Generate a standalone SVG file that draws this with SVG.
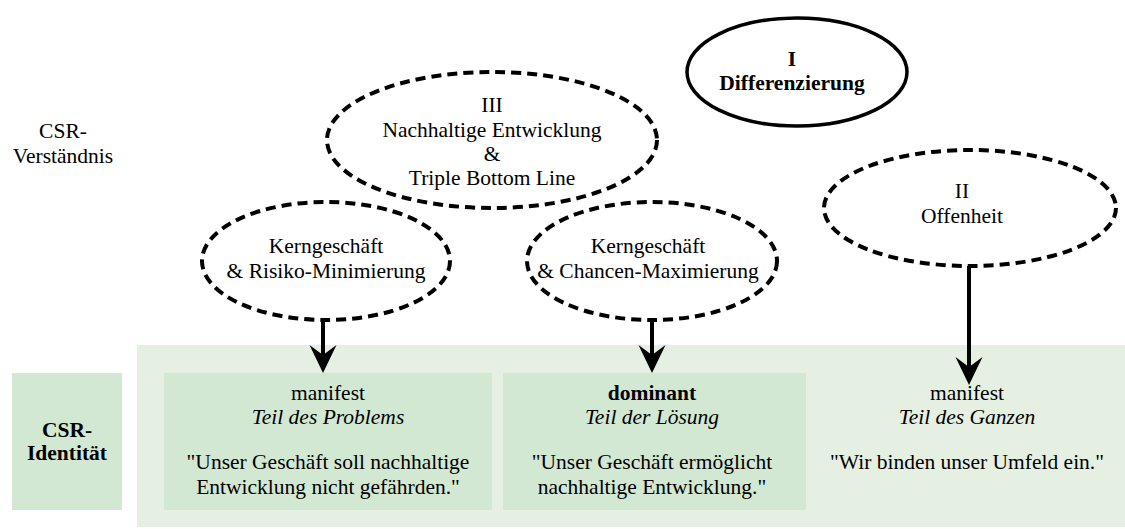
<svg xmlns="http://www.w3.org/2000/svg" width="1125" height="529" viewBox="0 0 1125 529" font-family="'Liberation Serif', 'Times New Roman', serif">
<style>
text{font-family:'Liberation Serif','Times New Roman',serif;font-size:21.5px;fill:#000;text-anchor:middle}
.b{font-weight:bold}
.i{font-style:italic}
.dash{fill:none;stroke:#000;stroke-width:4;stroke-dasharray:10 6}
.solid{fill:none;stroke:#000;stroke-width:3.5}
.panel{fill:#e5f0e3}
.box{fill:#d3e8d2}
.conn{stroke:#000;stroke-width:4;fill:none}
</style>
<defs>
<marker id="ah" viewBox="-28 -14 30 28" markerWidth="30" markerHeight="28" refX="-18" refY="0" markerUnits="userSpaceOnUse" orient="auto">
<path d="M0,0 L-28,-13.5 L-18,0 L-28,13.5 Z" fill="#000"/>
</marker>
</defs>
<g id="labels">
<text x="63" y="138">CSR-</text>
<text x="63" y="163">Verständnis</text>
</g>
<g id="panel"><rect class="panel" x="137" y="345" width="988" height="182"/></g>
<g id="identity">
<rect class="box" x="12" y="373" width="110" height="137"/>
<text class="b" x="67" y="437">CSR-</text>
<text class="b" x="67" y="460">Identität</text>
</g>
<g id="ellipse-I">
<ellipse class="solid" cx="797" cy="72" rx="110" ry="54"/>
<text class="b" x="792" y="66">I</text>
<text class="b" x="792" y="90">Differenzierung</text>
</g>
<g id="ellipse-III">
<ellipse class="dash" cx="492" cy="140" rx="165" ry="68"/>
<text x="492" y="112">III</text>
<text x="492" y="137">Nachhaltige Entwicklung</text>
<text x="492" y="161">&amp;</text>
<text x="492" y="185">Triple Bottom Line</text>
</g>
<g id="ellipse-II">
<ellipse class="dash" cx="970" cy="208" rx="146" ry="58"/>
<text x="962" y="198">II</text>
<text x="962" y="223">Offenheit</text>
</g>
<g id="ellipse-risk">
<ellipse class="dash" cx="326" cy="261" rx="124" ry="59"/>
<text x="326" y="253">Kerngeschäft</text>
<text x="326" y="278">&amp; Risiko-Minimierung</text>
</g>
<g id="ellipse-chance">
<ellipse class="dash" cx="652" cy="261" rx="125" ry="59"/>
<text x="648" y="253">Kerngeschäft</text>
<text x="648" y="278">&amp; Chancen-Maximierung</text>
</g>
<g id="col-1">
<rect class="box" x="164" y="373" width="328" height="137"/>
<text x="328" y="400">manifest</text>
<text class="i" x="328" y="424">Teil des Problems</text>
<text x="328" y="469">"Unser Geschäft soll nachhaltige</text>
<text x="328" y="494">Entwicklung nicht gefährden."</text>
</g>
<g id="col-2">
<rect class="box" x="503" y="373" width="303" height="137"/>
<text class="b" x="652" y="400">dominant</text>
<text class="i" x="652" y="424">Teil der Lösung</text>
<text x="652" y="469">"Unser Geschäft ermöglicht</text>
<text x="652" y="494">nachhaltige Entwicklung."</text>
</g>
<g id="col-3">
<text x="967" y="400">manifest</text>
<text class="i" x="967" y="424">Teil des Ganzen</text>
<text x="967" y="469">"Wir binden unser Umfeld ein."</text>
</g>
<g id="connectors">
<line class="conn" x1="323" y1="320" x2="323" y2="355" marker-end="url(#ah)"/>
<line class="conn" x1="652" y1="320" x2="652" y2="355" marker-end="url(#ah)"/>
<line class="conn" x1="969" y1="266" x2="969" y2="367" marker-end="url(#ah)"/>
</g>
</svg>
